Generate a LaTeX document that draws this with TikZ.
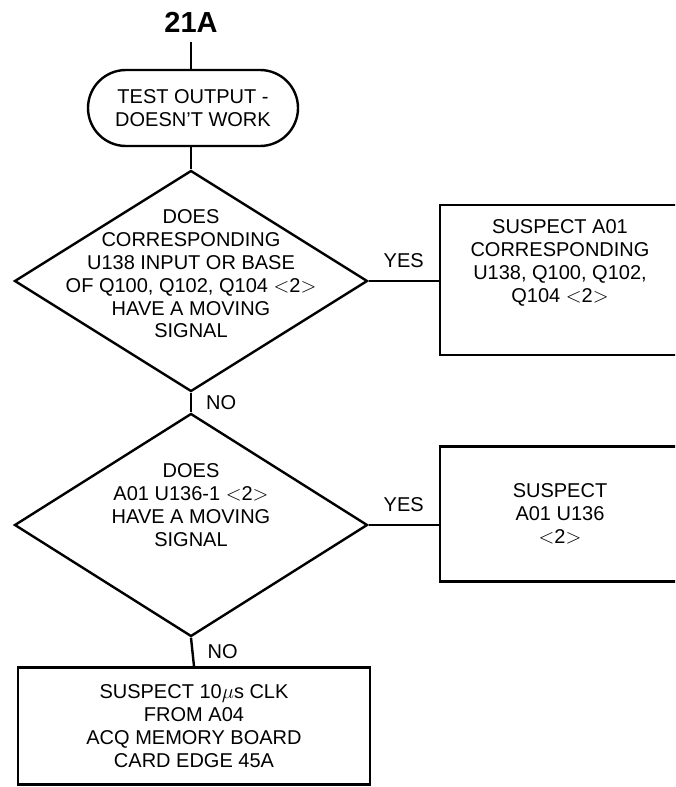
\documentclass[tikz,border=0pt]{standalone}
\usepackage{fontspec}
\setmainfont{Liberation Sans}
\usetikzlibrary{shapes.geometric,shapes.misc,positioning}

\newcommand{\flowfont}{\fontsize{20}{22.8}\selectfont}

\tikzset{
    flow/.style={line width=2.4pt},
    startbox/.style={draw, flow, rounded rectangle, align=center, font=\flowfont,
        minimum width=214pt, minimum height=76pt, inner sep=2pt},
    askbox/.style={draw, flow, diamond, align=center, font=\flowfont,
        inner sep=-70pt},
    suspectbox/.style={draw, flow, rectangle, align=center, font=\flowfont,
        inner sep=0pt},
    answer/.style={font=\flowfont, inner sep=0pt}
}

\begin{document}
\begin{tikzpicture}[x=1pt, y=-1pt]
        \clip (0,0) rectangle (675,787);

        % Title
        \node[font=\fontsize{29}{31}\bfseries\selectfont] (title) at (191,22) {21A};

        % Start
        \node[startbox] (start) at (193,108) {TEST OUTPUT -\\DOESN'T WORK};

        % First question
        \node[askbox, minimum width=353pt, minimum height=221pt, text depth=14pt] (ask1) at (191,281)
            {DOES\\CORRESPONDING\\U138 INPUT OR BASE\\OF Q100, Q102, Q104 $<$2$>$\\HAVE A MOVING\\SIGNAL};
        \node[suspectbox, minimum width=240pt, minimum height=150pt, text depth=38pt] (sus1) at (560,280)
            {SUSPECT A01\\CORRESPONDING\\U138, Q100, Q102,\\Q104 $<$2$>$};

        % Second question
        \node[askbox, minimum width=353pt, minimum height=223pt, text depth=40pt] (ask2) at (191,525)
            {DOES\\A01 U136-1 $<$2$>$\\HAVE A MOVING\\SIGNAL};
        \node[suspectbox, minimum width=240pt, minimum height=135pt] (sus2) at (560,514)
            {SUSPECT\\A01 U136\\$<$2$>$};

        % Last step
        \node[suspectbox, minimum width=352pt, minimum height=117pt, text depth=0pt] (sus3) at (194,726)
            {SUSPECT 10$\mu$s CLK\\FROM A04\\ACQ MEMORY BOARD\\CARD EDGE 45A};

        % Connectors
        \draw[flow, shorten <=6pt] (title) -- (title |- start.north);
        \draw[flow] (start.south -| ask1.north) -- (ask1.north);
        \draw[flow] (ask1.east) -- (ask1.east -| sus1.west)
            node[answer, midway, above=12pt] (yes1) {YES};
        \draw[flow] (ask1.south) -- (ask2.north)
            node[answer, midway, right=14pt] (no1) {NO};
        \draw[flow] (ask2.east) -- (ask2.east -| sus2.west)
            node[answer, midway, above=12pt] (yes2) {YES};
        \draw[flow] (ask2.south) -- (sus3.north)
            node[answer, midway, right=14pt] (no2) {NO};

    \end{tikzpicture}
\end{document}
